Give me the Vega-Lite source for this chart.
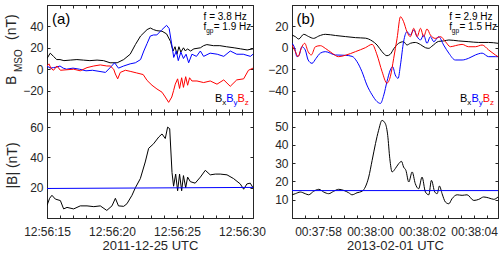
{
"$schema": "https://vega.github.io/schema/vega-lite/v6.json",
"padding": {"left": 4, "top": 4, "right": 0, "bottom": 0},
"columns": 2,
"spacing": {"row": 0, "column": 39},
"bounds": "flush",
"datasets": {
"a_top": [
{"t":15.0,"c":"Bx","v":10},{"t":15.25,"c":"Bx","v":15},{"t":15.5,"c":"Bx","v":12},{"t":15.75,"c":"Bx","v":9},{"t":16.0,"c":"Bx","v":9},{"t":16.3,"c":"Bx","v":8},{"t":16.8,"c":"Bx","v":8.5},{"t":17.3,"c":"Bx","v":9},{"t":17.8,"c":"Bx","v":8.5},{"t":18.3,"c":"Bx","v":8},{"t":18.85,"c":"Bx","v":8.5},{"t":19.35,"c":"Bx","v":8},{"t":19.85,"c":"Bx","v":6},{"t":20.4,"c":"Bx","v":6},{"t":20.9,"c":"Bx","v":9},{"t":21.4,"c":"Bx","v":14},{"t":21.8,"c":"Bx","v":23},{"t":22.2,"c":"Bx","v":31},{"t":22.7,"c":"Bx","v":37},{"t":22.95,"c":"Bx","v":38.5},{"t":23.2,"c":"Bx","v":37},{"t":23.45,"c":"Bx","v":36},{"t":23.85,"c":"Bx","v":35.5},{"t":24.2,"c":"Bx","v":33},{"t":24.5,"c":"Bx","v":26},{"t":24.7,"c":"Bx","v":17},{"t":24.85,"c":"Bx","v":21},{"t":25.0,"c":"Bx","v":14},{"t":25.15,"c":"Bx","v":21},{"t":25.3,"c":"Bx","v":16},{"t":25.5,"c":"Bx","v":20},{"t":25.65,"c":"Bx","v":17},{"t":25.8,"c":"Bx","v":19},{"t":26.05,"c":"Bx","v":17},{"t":26.3,"c":"Bx","v":19},{"t":26.8,"c":"Bx","v":20},{"t":27.05,"c":"Bx","v":22},{"t":27.3,"c":"Bx","v":23},{"t":27.8,"c":"Bx","v":22},{"t":28.3,"c":"Bx","v":22},{"t":28.8,"c":"Bx","v":21},{"t":29.4,"c":"Bx","v":20},{"t":29.9,"c":"Bx","v":19},{"t":30.4,"c":"Bx","v":18},{"t":30.85,"c":"Bx","v":19},
{"t":15.0,"c":"By","v":3},{"t":15.25,"c":"By","v":1},{"t":15.5,"c":"By","v":1.5},{"t":15.75,"c":"By","v":2},{"t":16.0,"c":"By","v":3},{"t":16.25,"c":"By","v":1},{"t":16.5,"c":"By","v":0},{"t":17.0,"c":"By","v":1},{"t":17.5,"c":"By","v":0},{"t":18.0,"c":"By","v":-1.5},{"t":18.5,"c":"By","v":-1},{"t":19.0,"c":"By","v":-2},{"t":19.5,"c":"By","v":-3},{"t":19.9,"c":"By","v":2},{"t":20.2,"c":"By","v":6},{"t":20.5,"c":"By","v":1},{"t":20.9,"c":"By","v":3},{"t":21.4,"c":"By","v":5},{"t":21.8,"c":"By","v":6},{"t":22.2,"c":"By","v":9},{"t":22.45,"c":"By","v":17},{"t":22.7,"c":"By","v":24},{"t":22.95,"c":"By","v":31},{"t":23.2,"c":"By","v":32},{"t":23.45,"c":"By","v":32},{"t":23.85,"c":"By","v":37},{"t":24.2,"c":"By","v":41},{"t":24.4,"c":"By","v":38},{"t":24.6,"c":"By","v":23},{"t":24.75,"c":"By","v":11},{"t":24.95,"c":"By","v":17},{"t":25.1,"c":"By","v":8},{"t":25.3,"c":"By","v":16},{"t":25.5,"c":"By","v":10},{"t":25.7,"c":"By","v":14},{"t":25.9,"c":"By","v":6},{"t":26.15,"c":"By","v":14},{"t":26.5,"c":"By","v":12},{"t":26.8,"c":"By","v":17},{"t":27.05,"c":"By","v":12},{"t":27.55,"c":"By","v":15},{"t":28.1,"c":"By","v":14},{"t":28.6,"c":"By","v":12},{"t":29.1,"c":"By","v":17},{"t":29.6,"c":"By","v":14},{"t":30.1,"c":"By","v":14},{"t":30.65,"c":"By","v":12},{"t":30.85,"c":"By","v":14},
{"t":15.0,"c":"Bz","v":3},{"t":15.15,"c":"Bz","v":5},{"t":15.3,"c":"Bz","v":1},{"t":15.5,"c":"Bz","v":-1},{"t":15.77,"c":"Bz","v":3},{"t":16.03,"c":"Bz","v":-1},{"t":16.54,"c":"Bz","v":-0.5},{"t":17.05,"c":"Bz","v":0},{"t":17.56,"c":"Bz","v":-1.5},{"t":18.08,"c":"Bz","v":1.5},{"t":18.6,"c":"Bz","v":3},{"t":19.1,"c":"Bz","v":4},{"t":19.6,"c":"Bz","v":3},{"t":19.87,"c":"Bz","v":3},{"t":20.13,"c":"Bz","v":0},{"t":20.26,"c":"Bz","v":-4.5},{"t":20.44,"c":"Bz","v":-9},{"t":20.64,"c":"Bz","v":-3},{"t":21.03,"c":"Bz","v":-1},{"t":21.4,"c":"Bz","v":-2},{"t":21.9,"c":"Bz","v":-3.5},{"t":22.4,"c":"Bz","v":-5},{"t":22.7,"c":"Bz","v":-10.5},{"t":23.08,"c":"Bz","v":-15},{"t":23.46,"c":"Bz","v":-18.5},{"t":23.85,"c":"Bz","v":-21.5},{"t":24.1,"c":"Bz","v":-26},{"t":24.36,"c":"Bz","v":-31},{"t":24.6,"c":"Bz","v":-26},{"t":24.74,"c":"Bz","v":-20},{"t":24.87,"c":"Bz","v":-14},{"t":25.05,"c":"Bz","v":-9},{"t":25.2,"c":"Bz","v":-18},{"t":25.36,"c":"Bz","v":-8},{"t":25.5,"c":"Bz","v":-17},{"t":25.67,"c":"Bz","v":-7},{"t":25.82,"c":"Bz","v":-15},{"t":25.97,"c":"Bz","v":-8},{"t":26.15,"c":"Bz","v":-11},{"t":26.54,"c":"Bz","v":-11},{"t":27.05,"c":"Bz","v":-12.5},{"t":27.56,"c":"Bz","v":-11},{"t":28.08,"c":"Bz","v":-14},{"t":28.6,"c":"Bz","v":-10},{"t":29.1,"c":"Bz","v":-16},{"t":29.6,"c":"Bz","v":-10},{"t":30.13,"c":"Bz","v":-9},{"t":30.5,"c":"Bz","v":-1},{"t":30.85,"c":"Bz","v":1}
],
"a_bot": [
{"t":15.0,"c":"B","v":8.3},{"t":15.2,"c":"B","v":13},{"t":15.38,"c":"B","v":15},{"t":15.64,"c":"B","v":12.5},{"t":16.03,"c":"B","v":11.5},{"t":16.28,"c":"B","v":6},{"t":16.54,"c":"B","v":7},{"t":17.05,"c":"B","v":6},{"t":17.56,"c":"B","v":8},{"t":18.08,"c":"B","v":8},{"t":18.6,"c":"B","v":7.5},{"t":19.1,"c":"B","v":8},{"t":19.6,"c":"B","v":5},{"t":20.0,"c":"B","v":8},{"t":20.26,"c":"B","v":13},{"t":20.5,"c":"B","v":8},{"t":20.9,"c":"B","v":7.7},{"t":21.15,"c":"B","v":9.4},{"t":21.54,"c":"B","v":15},{"t":21.8,"c":"B","v":20},{"t":22.18,"c":"B","v":26},{"t":22.56,"c":"B","v":37},{"t":22.82,"c":"B","v":46},{"t":23.2,"c":"B","v":49},{"t":23.6,"c":"B","v":53.5},{"t":23.85,"c":"B","v":55.5},{"t":24.1,"c":"B","v":52.5},{"t":24.28,"c":"B","v":60},{"t":24.44,"c":"B","v":59},{"t":24.62,"c":"B","v":30},{"t":24.74,"c":"B","v":21},{"t":24.9,"c":"B","v":29},{"t":25.05,"c":"B","v":18},{"t":25.2,"c":"B","v":29},{"t":25.36,"c":"B","v":18},{"t":25.5,"c":"B","v":28},{"t":25.67,"c":"B","v":20},{"t":25.82,"c":"B","v":27},{"t":26.03,"c":"B","v":24},{"t":26.4,"c":"B","v":23},{"t":26.8,"c":"B","v":27},{"t":27.18,"c":"B","v":31.5},{"t":27.56,"c":"B","v":28.5},{"t":27.95,"c":"B","v":29},{"t":28.33,"c":"B","v":29},{"t":28.85,"c":"B","v":28.5},{"t":29.36,"c":"B","v":26},{"t":29.87,"c":"B","v":22.5},{"t":30.13,"c":"B","v":19},{"t":30.38,"c":"B","v":22.5},{"t":30.64,"c":"B","v":23},{"t":30.85,"c":"B","v":20},
{"t":15.0,"c":"ref","v":19.5},{"t":30.85,"c":"ref","v":20.2}
],
"b_top": [
{"t":57.0,"c":"Bx","v":12},{"t":57.13,"c":"Bx","v":10.4},{"t":57.26,"c":"Bx","v":8.2},{"t":57.45,"c":"Bx","v":12.6},{"t":57.64,"c":"Bx","v":10.5},{"t":57.83,"c":"Bx","v":8.8},{"t":58.03,"c":"Bx","v":11},{"t":58.28,"c":"Bx","v":12.6},{"t":58.67,"c":"Bx","v":11.5},{"t":59.05,"c":"Bx","v":10.5},{"t":59.44,"c":"Bx","v":9.5},{"t":59.82,"c":"Bx","v":9},{"t":60.08,"c":"Bx","v":6.4},{"t":60.27,"c":"Bx","v":2.6},{"t":60.46,"c":"Bx","v":-3.6},{"t":60.65,"c":"Bx","v":-7.4},{"t":60.78,"c":"Bx","v":-6},{"t":60.91,"c":"Bx","v":-1},{"t":61.1,"c":"Bx","v":4.2},{"t":61.29,"c":"Bx","v":5.7},{"t":61.42,"c":"Bx","v":2.6},{"t":61.55,"c":"Bx","v":4.2},{"t":61.74,"c":"Bx","v":5},{"t":61.94,"c":"Bx","v":3},{"t":62.13,"c":"Bx","v":0.1},{"t":62.26,"c":"Bx","v":-0.5},{"t":62.38,"c":"Bx","v":1.5},{"t":62.64,"c":"Bx","v":6},{"t":62.83,"c":"Bx","v":6.4},{"t":63.03,"c":"Bx","v":7.3},{"t":63.41,"c":"Bx","v":6.4},{"t":63.8,"c":"Bx","v":5.7},{"t":64.18,"c":"Bx","v":5},{"t":64.56,"c":"Bx","v":5},{"t":64.92,"c":"Bx","v":4.2},
{"t":57.0,"c":"By","v":4.2},{"t":57.1,"c":"By","v":0},{"t":57.19,"c":"By","v":-8.3},{"t":57.28,"c":"By","v":-6.5},{"t":57.38,"c":"By","v":1},{"t":57.51,"c":"By","v":-2},{"t":57.62,"c":"By","v":-11.4},{"t":57.77,"c":"By","v":-14.5},{"t":57.92,"c":"By","v":-10},{"t":58.09,"c":"By","v":-5},{"t":58.28,"c":"By","v":-3.6},{"t":58.67,"c":"By","v":-6.7},{"t":59.05,"c":"By","v":-7},{"t":59.31,"c":"By","v":-8},{"t":59.5,"c":"By","v":-13},{"t":59.69,"c":"By","v":-22.3},{"t":59.88,"c":"By","v":-34.8},{"t":60.08,"c":"By","v":-44},{"t":60.27,"c":"By","v":-50.3},{"t":60.4,"c":"By","v":-52},{"t":60.53,"c":"By","v":-44},{"t":60.65,"c":"By","v":-31.7},{"t":60.78,"c":"By","v":-20.7},{"t":60.87,"c":"By","v":-17.6},{"t":60.97,"c":"By","v":-25.4},{"t":61.08,"c":"By","v":-28.5},{"t":61.17,"c":"By","v":-16},{"t":61.29,"c":"By","v":5.7},{"t":61.42,"c":"By","v":15},{"t":61.55,"c":"By","v":12},{"t":61.68,"c":"By","v":16.6},{"t":61.81,"c":"By","v":10.4},{"t":61.94,"c":"By","v":7.3},{"t":62.06,"c":"By","v":12},{"t":62.19,"c":"By","v":4.2},{"t":62.32,"c":"By","v":10.4},{"t":62.45,"c":"By","v":5.7},{"t":62.64,"c":"By","v":10.4},{"t":62.83,"c":"By","v":2.6},{"t":63.03,"c":"By","v":-5},{"t":63.28,"c":"By","v":-11.4},{"t":63.54,"c":"By","v":-11.4},{"t":63.79,"c":"By","v":-9.8},{"t":64.05,"c":"By","v":-6.7},{"t":64.31,"c":"By","v":-5},{"t":64.56,"c":"By","v":-8.3},{"t":64.82,"c":"By","v":-8.3},{"t":64.92,"c":"By","v":-8.3},
{"t":57.0,"c":"Bz","v":2.6},{"t":57.13,"c":"Bz","v":-3.6},{"t":57.23,"c":"Bz","v":-8.3},{"t":57.36,"c":"Bz","v":0},{"t":57.49,"c":"Bz","v":4.2},{"t":57.62,"c":"Bz","v":-3.6},{"t":57.74,"c":"Bz","v":-6.7},{"t":57.9,"c":"Bz","v":1},{"t":58.09,"c":"Bz","v":2},{"t":58.28,"c":"Bz","v":-0.5},{"t":58.54,"c":"Bz","v":-5},{"t":58.79,"c":"Bz","v":-8.3},{"t":59.05,"c":"Bz","v":-7},{"t":59.44,"c":"Bz","v":-3.6},{"t":59.82,"c":"Bz","v":0.1},{"t":60.08,"c":"Bz","v":3.2},{"t":60.27,"c":"Bz","v":-6.7},{"t":60.46,"c":"Bz","v":-22},{"t":60.65,"c":"Bz","v":-33},{"t":60.78,"c":"Bz","v":-27},{"t":60.91,"c":"Bz","v":-9.8},{"t":61.04,"c":"Bz","v":8.8},{"t":61.17,"c":"Bz","v":29},{"t":61.29,"c":"Bz","v":24.4},{"t":61.42,"c":"Bz","v":15},{"t":61.55,"c":"Bz","v":10.4},{"t":61.68,"c":"Bz","v":18.2},{"t":61.81,"c":"Bz","v":10.4},{"t":61.94,"c":"Bz","v":18.2},{"t":62.06,"c":"Bz","v":10.4},{"t":62.19,"c":"Bz","v":17.6},{"t":62.32,"c":"Bz","v":12},{"t":62.51,"c":"Bz","v":8.8},{"t":62.71,"c":"Bz","v":10.4},{"t":62.9,"c":"Bz","v":5.7},{"t":63.09,"c":"Bz","v":1},{"t":63.28,"c":"Bz","v":2},{"t":63.54,"c":"Bz","v":3.2},{"t":63.79,"c":"Bz","v":1},{"t":64.05,"c":"Bz","v":1},{"t":64.31,"c":"Bz","v":2.6},{"t":64.56,"c":"Bz","v":-2},{"t":64.82,"c":"Bz","v":-6.7},{"t":64.92,"c":"Bz","v":-8.3}
],
"b_bot": [
{"t":57.0,"c":"B","v":12.7},{"t":57.13,"c":"B","v":13.3},{"t":57.32,"c":"B","v":14.2},{"t":57.51,"c":"B","v":13.3},{"t":57.64,"c":"B","v":12.7},{"t":57.83,"c":"B","v":14.6},{"t":58.03,"c":"B","v":15.7},{"t":58.22,"c":"B","v":14.2},{"t":58.41,"c":"B","v":13.3},{"t":58.6,"c":"B","v":14.6},{"t":58.79,"c":"B","v":15.7},{"t":58.99,"c":"B","v":15.1},{"t":59.18,"c":"B","v":13.8},{"t":59.31,"c":"B","v":12.7},{"t":59.5,"c":"B","v":13.8},{"t":59.69,"c":"B","v":14.6},{"t":59.82,"c":"B","v":17},{"t":59.95,"c":"B","v":22.4},{"t":60.08,"c":"B","v":31.5},{"t":60.21,"c":"B","v":40.7},{"t":60.33,"c":"B","v":48},{"t":60.46,"c":"B","v":53.4},{"t":60.59,"c":"B","v":51.6},{"t":60.68,"c":"B","v":45.2},{"t":60.76,"c":"B","v":32.5},{"t":60.85,"c":"B","v":25.2},{"t":60.97,"c":"B","v":27},{"t":61.1,"c":"B","v":29.7},{"t":61.21,"c":"B","v":31},{"t":61.29,"c":"B","v":27.9},{"t":61.38,"c":"B","v":26},{"t":61.49,"c":"B","v":19.7},{"t":61.62,"c":"B","v":25.2},{"t":61.74,"c":"B","v":18.8},{"t":61.87,"c":"B","v":16},{"t":62.0,"c":"B","v":22.4},{"t":62.13,"c":"B","v":14.2},{"t":62.26,"c":"B","v":12.7},{"t":62.36,"c":"B","v":20.6},{"t":62.49,"c":"B","v":14.2},{"t":62.58,"c":"B","v":13.3},{"t":62.67,"c":"B","v":17.5},{"t":62.77,"c":"B","v":13.3},{"t":62.9,"c":"B","v":8.7},{"t":63.03,"c":"B","v":7.8},{"t":63.15,"c":"B","v":10.5},{"t":63.35,"c":"B","v":12.7},{"t":63.54,"c":"B","v":12.4},{"t":63.73,"c":"B","v":12.7},{"t":63.99,"c":"B","v":9.6},{"t":64.18,"c":"B","v":10.2},{"t":64.37,"c":"B","v":11.5},{"t":64.56,"c":"B","v":11},{"t":64.76,"c":"B","v":10.2},{"t":64.92,"c":"B","v":11.5},
{"t":57.0,"c":"ref","v":15},{"t":64.92,"c":"ref","v":15}
],
"one": [{"n": 1}]
},
"concat": [
{
"width": 206, "height": 107,
"layer": [
{"data": {"name": "a_top"}, "mark": {"type": "line", "strokeWidth": 1, "clip": true},
 "encoding": {
  "x": {"field": "t", "type": "quantitative", "scale": {"domain": [15, 30.85], "nice": false, "zero": false}, "axis": {"values": [15,16,17,18,19,20,21,22,23,24,25,26,27,28,29,30], "labels": false, "title": null}},
  "y": {"field": "v", "type": "quantitative", "scale": {"domain": [-40, 60], "nice": false, "zero": false}, "axis": {"values": [-20,0,20,40], "title": null}},
  "color": {"field": "c", "type": "nominal", "scale": {"domain": ["Bx","By","Bz","B","ref"], "range": ["#000000","#0000ff","#ff0000","#000000","#0000ff"]}, "legend": null}}},
{"data": {"name": "a_top"}, "mark": {"type": "point", "opacity": 0},
 "encoding": {
  "x": {"field": "t", "type": "quantitative", "axis": {"orient": "top", "values": [15,16,17,18,19,20,21,22,23,24,25,26,27,28,29,30], "labels": false, "title": null}},
  "y": {"field": "v", "type": "quantitative", "axis": {"orient": "right", "values": [-20,0,20,40], "labels": false, "title": null}}}},
{"data": {"name": "one"}, "mark": {"type": "text", "text": "(a)", "fontSize": 15, "align": "left", "baseline": "alphabetic"},
 "encoding": {"x": {"datum": 15.38, "type": "quantitative", "axis": null}, "y": {"datum": 42.7, "type": "quantitative", "axis": null}}},
{"data": {"name": "one"}, "mark": {"type": "text", "text": "f = 3.8 Hz", "fontSize": 10, "align": "left", "baseline": "alphabetic"},
 "encoding": {"x": {"datum": 27.05, "type": "quantitative", "axis": null}, "y": {"datum": 46.0, "type": "quantitative", "axis": null}}},
{"data": {"name": "one"}, "mark": {"type": "text", "text": "f", "fontSize": 10, "align": "left", "baseline": "alphabetic"},
 "encoding": {"x": {"datum": 27.05, "type": "quantitative", "axis": null}, "y": {"datum": 36.2, "type": "quantitative", "axis": null}}},
{"data": {"name": "one"}, "mark": {"type": "text", "text": "gp", "fontSize": 6.5, "align": "left", "baseline": "alphabetic"},
 "encoding": {"x": {"datum": 27.246, "type": "quantitative", "axis": null}, "y": {"datum": 33.6, "type": "quantitative", "axis": null}}},
{"data": {"name": "one"}, "mark": {"type": "text", "text": "= 1.9 Hz", "fontSize": 10, "align": "left", "baseline": "alphabetic"},
 "encoding": {"x": {"datum": 27.83, "type": "quantitative", "axis": null}, "y": {"datum": 36.2, "type": "quantitative", "axis": null}}},
{"data": {"name": "one"}, "mark": {"type": "text", "text": "B", "fontSize": 11, "align": "left", "baseline": "alphabetic", "color": "#000000"},
 "encoding": {"x": {"datum": 27.92, "type": "quantitative", "axis": null}, "y": {"datum": -30.7, "type": "quantitative", "axis": null}}},
{"data": {"name": "one"}, "mark": {"type": "text", "text": "x", "fontSize": 8, "align": "left", "baseline": "alphabetic", "color": "#000000"},
 "encoding": {"x": {"datum": 28.485, "type": "quantitative", "axis": null}, "y": {"datum": -33.5, "type": "quantitative", "axis": null}}},
{"data": {"name": "one"}, "mark": {"type": "text", "text": "B", "fontSize": 11, "align": "left", "baseline": "alphabetic", "color": "#0000ff"},
 "encoding": {"x": {"datum": 28.79, "type": "quantitative", "axis": null}, "y": {"datum": -30.7, "type": "quantitative", "axis": null}}},
{"data": {"name": "one"}, "mark": {"type": "text", "text": "y", "fontSize": 8, "align": "left", "baseline": "alphabetic", "color": "#0000ff"},
 "encoding": {"x": {"datum": 29.35, "type": "quantitative", "axis": null}, "y": {"datum": -33.5, "type": "quantitative", "axis": null}}},
{"data": {"name": "one"}, "mark": {"type": "text", "text": "B", "fontSize": 11, "align": "left", "baseline": "alphabetic", "color": "#ff0000"},
 "encoding": {"x": {"datum": 29.66, "type": "quantitative", "axis": null}, "y": {"datum": -30.7, "type": "quantitative", "axis": null}}},
{"data": {"name": "one"}, "mark": {"type": "text", "text": "z", "fontSize": 8, "align": "left", "baseline": "alphabetic", "color": "#ff0000"},
 "encoding": {"x": {"datum": 30.22, "type": "quantitative", "axis": null}, "y": {"datum": -33.5, "type": "quantitative", "axis": null}}},
{"data": {"name": "one"}, "mark": {"type": "text", "text": "B", "fontSize": 14, "angle": 270, "align": "left", "baseline": "alphabetic", "color": "#262626"},
 "encoding": {"x": {"datum": 12.65, "type": "quantitative", "axis": null}, "y": {"datum": -14.8, "type": "quantitative", "axis": null}}},
{"data": {"name": "one"}, "mark": {"type": "text", "text": "MSO", "fontSize": 10, "angle": 270, "align": "left", "baseline": "alphabetic", "color": "#262626"},
 "encoding": {"x": {"datum": 13.04, "type": "quantitative", "axis": null}, "y": {"datum": -2.6, "type": "quantitative", "axis": null}}},
{"data": {"name": "one"}, "mark": {"type": "text", "text": "(nT)", "fontSize": 14, "angle": 270, "align": "left", "baseline": "alphabetic", "color": "#262626"},
 "encoding": {"x": {"datum": 12.65, "type": "quantitative", "axis": null}, "y": {"datum": 27.3, "type": "quantitative", "axis": null}}}
],
"resolve": {"axis": {"x": "independent", "y": "independent"}}
},
{
"width": 206, "height": 107,
"layer": [
{"data": {"name": "b_top"}, "mark": {"type": "line", "strokeWidth": 1, "interpolate": "monotone", "clip": true},
 "encoding": {
  "x": {"field": "t", "type": "quantitative", "scale": {"domain": [57, 64.92], "nice": false, "zero": false}, "axis": {"values": [57,57.5,58,58.5,59,59.5,60,60.5,61,61.5,62,62.5,63,63.5,64,64.5], "labels": false, "title": null}},
  "y": {"field": "v", "type": "quantitative", "scale": {"domain": [-60, 40], "nice": false, "zero": false}, "axis": {"values": [-40,-20,0,20], "title": null}},
  "color": {"field": "c", "type": "nominal", "scale": {"domain": ["Bx","By","Bz","B","ref"], "range": ["#000000","#0000ff","#ff0000","#000000","#0000ff"]}, "legend": null}}},
{"data": {"name": "b_top"}, "mark": {"type": "point", "opacity": 0},
 "encoding": {
  "x": {"field": "t", "type": "quantitative", "axis": {"orient": "top", "values": [57,57.5,58,58.5,59,59.5,60,60.5,61,61.5,62,62.5,63,63.5,64,64.5], "labels": false, "title": null}},
  "y": {"field": "v", "type": "quantitative", "axis": {"orient": "right", "values": [-40,-20,0,20], "labels": false, "title": null}}}},
{"data": {"name": "one"}, "mark": {"type": "text", "text": "(b)", "fontSize": 15, "align": "left", "baseline": "alphabetic"},
 "encoding": {"x": {"datum": 57.17, "type": "quantitative", "axis": null}, "y": {"datum": 22.7, "type": "quantitative", "axis": null}}},
{"data": {"name": "one"}, "mark": {"type": "text", "text": "f = 2.9 Hz", "fontSize": 10, "align": "left", "baseline": "alphabetic"},
 "encoding": {"x": {"datum": 63.05, "type": "quantitative", "axis": null}, "y": {"datum": 26.0, "type": "quantitative", "axis": null}}},
{"data": {"name": "one"}, "mark": {"type": "text", "text": "f", "fontSize": 10, "align": "left", "baseline": "alphabetic"},
 "encoding": {"x": {"datum": 63.05, "type": "quantitative", "axis": null}, "y": {"datum": 16.2, "type": "quantitative", "axis": null}}},
{"data": {"name": "one"}, "mark": {"type": "text", "text": "gp", "fontSize": 6.5, "align": "left", "baseline": "alphabetic"},
 "encoding": {"x": {"datum": 63.146, "type": "quantitative", "axis": null}, "y": {"datum": 13.6, "type": "quantitative", "axis": null}}},
{"data": {"name": "one"}, "mark": {"type": "text", "text": "= 1.5 Hz", "fontSize": 10, "align": "left", "baseline": "alphabetic"},
 "encoding": {"x": {"datum": 63.44, "type": "quantitative", "axis": null}, "y": {"datum": 16.2, "type": "quantitative", "axis": null}}},
{"data": {"name": "one"}, "mark": {"type": "text", "text": "B", "fontSize": 11, "align": "left", "baseline": "alphabetic", "color": "#000000"},
 "encoding": {"x": {"datum": 63.46, "type": "quantitative", "axis": null}, "y": {"datum": -50.7, "type": "quantitative", "axis": null}}},
{"data": {"name": "one"}, "mark": {"type": "text", "text": "x", "fontSize": 8, "align": "left", "baseline": "alphabetic", "color": "#000000"},
 "encoding": {"x": {"datum": 63.74, "type": "quantitative", "axis": null}, "y": {"datum": -53.5, "type": "quantitative", "axis": null}}},
{"data": {"name": "one"}, "mark": {"type": "text", "text": "B", "fontSize": 11, "align": "left", "baseline": "alphabetic", "color": "#0000ff"},
 "encoding": {"x": {"datum": 63.9, "type": "quantitative", "axis": null}, "y": {"datum": -50.7, "type": "quantitative", "axis": null}}},
{"data": {"name": "one"}, "mark": {"type": "text", "text": "y", "fontSize": 8, "align": "left", "baseline": "alphabetic", "color": "#0000ff"},
 "encoding": {"x": {"datum": 64.18, "type": "quantitative", "axis": null}, "y": {"datum": -53.5, "type": "quantitative", "axis": null}}},
{"data": {"name": "one"}, "mark": {"type": "text", "text": "B", "fontSize": 11, "align": "left", "baseline": "alphabetic", "color": "#ff0000"},
 "encoding": {"x": {"datum": 64.33, "type": "quantitative", "axis": null}, "y": {"datum": -50.7, "type": "quantitative", "axis": null}}},
{"data": {"name": "one"}, "mark": {"type": "text", "text": "z", "fontSize": 8, "align": "left", "baseline": "alphabetic", "color": "#ff0000"},
 "encoding": {"x": {"datum": 64.61, "type": "quantitative", "axis": null}, "y": {"datum": -53.5, "type": "quantitative", "axis": null}}}
],
"resolve": {"axis": {"x": "independent", "y": "independent"}}
},
{
"width": 206, "height": 106,
"layer": [
{"data": {"name": "a_bot"}, "mark": {"type": "line", "strokeWidth": 1, "clip": true},
 "encoding": {
  "x": {"field": "t", "type": "quantitative", "scale": {"domain": [15, 30.85], "nice": false, "zero": false}, "axis": {"values": [15,16,17,18,19,20,21,22,23,24,25,26,27,28,29,30], "labelExpr": "datum.value % 5 == 0 ? '12:56:' + format(datum.value, '02d') : ''", "title": "2011-12-25 UTC", "labelPadding": 11, "titlePadding": 2}},
  "y": {"field": "v", "type": "quantitative", "scale": {"domain": [0, 70], "nice": false, "zero": false}, "axis": {"values": [20,40,60], "title": "|B| (nT)", "titleFontSize": 14, "titlePadding": 10}},
  "color": {"field": "c", "type": "nominal", "scale": {"domain": ["Bx","By","Bz","B","ref"], "range": ["#000000","#0000ff","#ff0000","#000000","#0000ff"]}, "legend": null}}},
{"data": {"name": "a_bot"}, "mark": {"type": "point", "opacity": 0},
 "encoding": {
  "x": {"field": "t", "type": "quantitative", "axis": {"orient": "top", "values": [15,16,17,18,19,20,21,22,23,24,25,26,27,28,29,30], "labels": false, "title": null}},
  "y": {"field": "v", "type": "quantitative", "axis": {"orient": "right", "values": [20,40,60], "labels": false, "title": null}}}}
],
"resolve": {"axis": {"x": "independent", "y": "independent"}}
},
{
"width": 206, "height": 106,
"layer": [
{"data": {"name": "b_bot"}, "mark": {"type": "line", "strokeWidth": 1, "interpolate": "monotone", "clip": true},
 "encoding": {
  "x": {"field": "t", "type": "quantitative", "scale": {"domain": [57, 64.92], "nice": false, "zero": false}, "axis": {"values": [57,57.5,58,58.5,59,59.5,60,60.5,61,61.5,62,62.5,63,63.5,64,64.5], "labelExpr": "datum.value % 2 == 0 ? (datum.value < 60 ? '00:37:' + format(datum.value, '02d') : '00:38:' + format(datum.value - 60, '02d')) : ''", "title": "2013-02-01 UTC", "labelPadding": 11, "titlePadding": 2}},
  "y": {"field": "v", "type": "quantitative", "scale": {"domain": [0, 58], "nice": false, "zero": false}, "axis": {"values": [10,20,30,40,50], "title": null}},
  "color": {"field": "c", "type": "nominal", "scale": {"domain": ["Bx","By","Bz","B","ref"], "range": ["#000000","#0000ff","#ff0000","#000000","#0000ff"]}, "legend": null}}},
{"data": {"name": "b_bot"}, "mark": {"type": "point", "opacity": 0},
 "encoding": {
  "x": {"field": "t", "type": "quantitative", "axis": {"orient": "top", "values": [57,57.5,58,58.5,59,59.5,60,60.5,61,61.5,62,62.5,63,63.5,64,64.5], "labels": false, "title": null}},
  "y": {"field": "v", "type": "quantitative", "axis": {"orient": "right", "values": [10,20,30,40,50], "labels": false, "title": null}}}}
],
"resolve": {"axis": {"x": "independent", "y": "independent"}}
}
],
"config": {
 "font": "Liberation Sans",
 "view": {"stroke": "#262626", "strokeWidth": 1},
 "axis": {"grid": false, "domainColor": "#262626", "tickColor": "#262626", "labelColor": "#262626", "titleColor": "#262626", "labelFont": "Liberation Sans", "titleFont": "Liberation Sans", "labelFontSize": 12, "titleFontSize": 13, "titleFontWeight": "normal", "tickSize": -3, "labelPadding": 7, "labelOverlap": false, "labelFlush": false, "domainWidth": 1, "tickWidth": 1, "titlePadding": 4},
 "text": {"font": "Liberation Sans"}
}
}
